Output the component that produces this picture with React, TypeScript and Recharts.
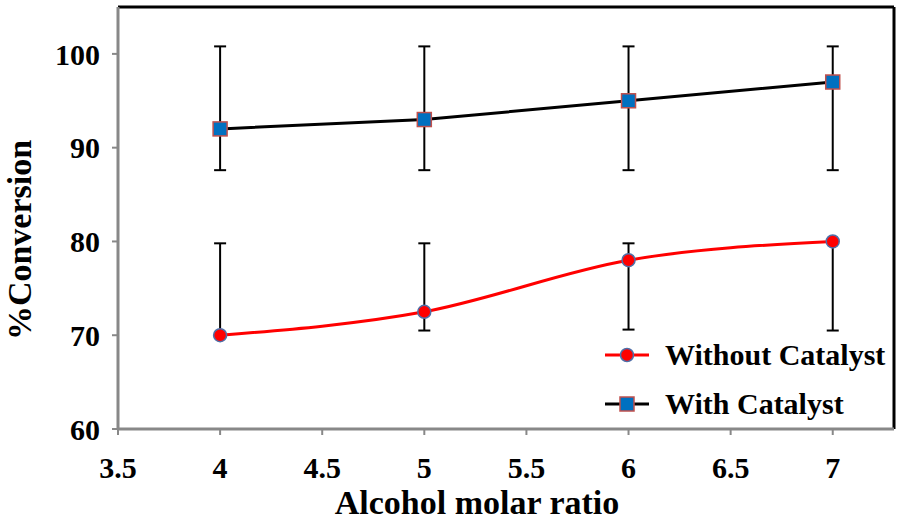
import {
  LineChart,
  Line,
  XAxis,
  YAxis,
  ErrorBar,
  ReferenceLine,
  Label,
} from "recharts";

const ratios = [4, 5, 6, 7];
const withoutCatalyst = [70, 72.5, 78, 80];
const withoutErr = [
  [0, 9.8],
  [2, 7.3],
  [7.4, 1.8],
  [9.5, 0],
];
const withCatalyst = [92, 93, 95, 97];
const withErr = [
  [4.4, 8.8],
  [5.4, 7.8],
  [7.4, 5.8],
  [9.4, 3.8],
];
const xTicks = [3.5, 4, 4.5, 5, 5.5, 6, 6.5, 7];
const yTicks = [60, 70, 80, 90, 100];
const X_MAX = 7.3;
const Y_MAX = 105;

const data = ratios.map((r, i) => ({
  ratio: r,
  without: withoutCatalyst[i],
  withoutErr: withoutErr[i],
  with: withCatalyst[i],
  withErr: withErr[i],
}));

const FONT = "'Liberation Serif', 'Times New Roman', serif";
const RED = "#ff0000";
const BLUE = "#0070c0";

const tickStyle = { fill: "#000", fontSize: 30, fontWeight: 700, fontFamily: FONT };

const CircleDot = (p: any) => (
  <circle key={p.key ?? p.index} cx={p.cx} cy={p.cy} r={6.5} fill={RED} stroke="#4f6fa8" strokeWidth={1.5} />
);

const SquareDot = (p: any) => (
  <rect
    key={p.key ?? p.index}
    x={p.cx - 7}
    y={p.cy - 7}
    width={14}
    height={14}
    fill={BLUE}
    stroke="#c0504d"
    strokeWidth={1.5}
  />
);

function LegendRow({ color, square, text }: { color: string; square: boolean; text: string }) {
  return (
    <div style={{ display: "flex", alignItems: "center", height: 49 }}>
      <svg width={60} height={20}>
        <line x1={0} y1={10} x2={44} y2={10} stroke={color} strokeWidth={3} />
        {square ? (
          <rect x={15} y={3} width={14} height={14} fill={BLUE} stroke="#c0504d" strokeWidth={1.5} />
        ) : (
          <circle cx={22} cy={10} r={6.5} fill={RED} stroke="#4f6fa8" strokeWidth={1.5} />
        )}
      </svg>
      <span style={{ fontFamily: FONT, fontWeight: 700, fontSize: 30, color: "#000" }}>{text}</span>
    </div>
  );
}

export default function App() {
  return (
    <div style={{ position: "absolute", left: 0, top: 0, width: 898, height: 528, background: "#fff" }}>
      <LineChart width={898} height={528} data={data} margin={{ top: 7, right: 4, left: 0, bottom: 0 }}>
        <XAxis
          dataKey="ratio"
          type="number"
          domain={[3.5, X_MAX]}
          ticks={xTicks}
          allowDataOverflow
          height={99}
          tick={tickStyle}
          tickSize={6}
          tickMargin={22}
          axisLine={{ stroke: "#888", strokeWidth: 3 }}
          tickLine={{ stroke: "#888", strokeWidth: 2 }}
        >
          <Label
            content={({ viewBox }: any) => (
              <text
                x={viewBox.x + viewBox.width / 2 - 29}
                y={514}
                textAnchor="middle"
                style={{ fontFamily: FONT, fontWeight: 700, fontSize: 34, fill: "#000" }}
              >
                Alcohol molar ratio
              </text>
            )}
          />
        </XAxis>
        <YAxis
          type="number"
          domain={[60, Y_MAX]}
          ticks={yTicks}
          allowDataOverflow
          width={118}
          tick={tickStyle}
          tickSize={6}
          tickMargin={12}
          axisLine={{ stroke: "#888", strokeWidth: 3 }}
          tickLine={{ stroke: "#888", strokeWidth: 2 }}
        >
          <Label
            content={({ viewBox }: any) => {
              const cx = 31;
              const cy = viewBox.y + viewBox.height / 2 + 22;
              return (
                <text
                  x={cx}
                  y={cy}
                  transform={`rotate(-90 ${cx} ${cy})`}
                  textAnchor="middle"
                  style={{ fontFamily: FONT, fontWeight: 700, fontSize: 34, fill: "#000" }}
                >
                  %Conversion
                </text>
              );
            }}
          />
        </YAxis>
        <ReferenceLine y={Y_MAX} stroke="#000" strokeWidth={3} />
        <ReferenceLine x={X_MAX} stroke="#000" strokeWidth={3} />
        <Line
          dataKey="without"
          type="monotone"
          stroke={RED}
          strokeWidth={3}
          dot={CircleDot}
          activeDot={false}
          isAnimationActive={false}
        >
          <ErrorBar dataKey="withoutErr" direction="y" width={6} stroke="#000" strokeWidth={2} />
        </Line>
        <Line
          dataKey="with"
          type="linear"
          stroke="#000"
          strokeWidth={3}
          dot={SquareDot}
          activeDot={false}
          isAnimationActive={false}
        >
          <ErrorBar dataKey="withErr" direction="y" width={6} stroke="#000" strokeWidth={2} />
        </Line>
      </LineChart>
      <div style={{ position: "absolute", left: 605, top: 330 }}>
        <LegendRow color={RED} square={false} text="Without Catalyst" />
        <LegendRow color="#000" square={true} text="With Catalyst" />
      </div>
    </div>
  );
}
